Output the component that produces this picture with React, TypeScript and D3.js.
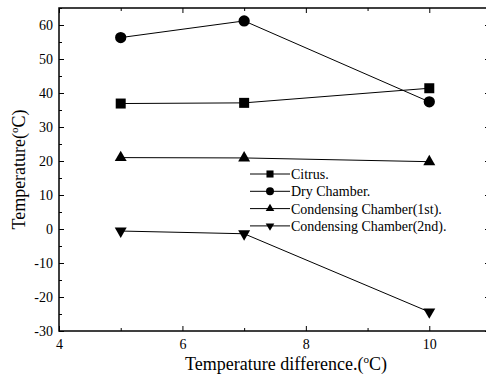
import React, { useRef, useEffect } from "react";
import * as d3 from "d3";

const xValues = [5, 7, 10];
const citrus = [36.9, 37.1, 41.4];
const dryChamber = [56.3, 61.2, 37.4];
const condensing1 = [21.0, 20.9, 19.8];
const condensing2 = [-0.6, -1.4, -24.4];
const seriesNames = [
  "Citrus.",
  "Dry Chamber.",
  "Condensing Chamber(1st).",
  "Condensing Chamber(2nd).",
];
const xTicks = [4, 6, 8, 10];
const yTicks = [-30, -20, -10, 0, 10, 20, 30, 40, 50, 60];

const FONT = "Liberation Serif, DejaVu Serif, serif";

const App = () => {
  const ref = useRef<SVGSVGElement>(null);

  useEffect(() => {
    const svg = d3.select(ref.current);
    svg.selectAll("*").remove();

    const width = 486;
    const height = 375;
    const margin = { top: 8, right: -5, bottom: 44, left: 59 };

    const x = d3
      .scaleLinear()
      .domain([4, 11])
      .range([margin.left, width - margin.right]);
    const y = d3
      .scaleLinear()
      .domain([-30, 65])
      .range([height - margin.bottom, margin.top]);

    const x0 = x.range()[0];
    const x1 = x.range()[1];
    const y0 = y.range()[0];
    const y1 = y.range()[1];

    svg.append("rect").attr("width", width).attr("height", height).attr("fill", "#fff");

    const styleAxis = (g) => {
      g.attr("font-family", FONT).attr("font-size", 14);
      g.selectAll(".domain").remove();
      g.selectAll("line").attr("stroke", "#000").attr("stroke-width", 1);
      g.selectAll("text").attr("fill", "#000");
    };
    const fmt = (d) => String(d);

    // bottom
    svg
      .append("g")
      .attr("transform", `translate(0,${y0})`)
      .call(d3.axisBottom(x).tickValues(xTicks).tickSizeInner(-5).tickSizeOuter(0).tickPadding(8).tickFormat(fmt))
      .call(styleAxis);
    svg
      .append("g")
      .attr("transform", `translate(0,${y0})`)
      .call(d3.axisBottom(x).tickValues([5, 7, 9]).tickSizeInner(-3).tickSizeOuter(0).tickFormat(() => ""))
      .call(styleAxis);
    // top
    svg
      .append("g")
      .attr("transform", `translate(0,${y1})`)
      .call(d3.axisTop(x).tickValues(xTicks).tickSizeInner(-5).tickSizeOuter(0).tickFormat(() => ""))
      .call(styleAxis);
    svg
      .append("g")
      .attr("transform", `translate(0,${y1})`)
      .call(d3.axisTop(x).tickValues([5, 7, 9]).tickSizeInner(-3).tickSizeOuter(0).tickFormat(() => ""))
      .call(styleAxis);
    // left
    svg
      .append("g")
      .attr("transform", `translate(${x0},0)`)
      .call(d3.axisLeft(y).tickValues(yTicks).tickSizeInner(-5).tickSizeOuter(0).tickPadding(6).tickFormat(fmt))
      .call(styleAxis);
    svg
      .append("g")
      .attr("transform", `translate(${x0},0)`)
      .call(d3.axisLeft(y).tickValues([-25, -15, -5, 5, 15, 25, 35, 45, 55, 65]).tickSizeInner(-3).tickSizeOuter(0).tickFormat(() => ""))
      .call(styleAxis);
    // right
    svg
      .append("g")
      .attr("transform", `translate(${x1},0)`)
      .call(d3.axisRight(y).tickValues(yTicks).tickSizeInner(-6).tickSizeOuter(0).tickFormat(() => ""))
      .call(styleAxis);

    // frame
    svg
      .append("rect")
      .attr("x", x0)
      .attr("y", y1)
      .attr("width", x1 - x0)
      .attr("height", y0 - y1)
      .attr("fill", "none")
      .attr("stroke", "#000")
      .attr("stroke-width", 1.5);

    const allSeries = [citrus, dryChamber, condensing1, condensing2];
    const symbols = [
      { type: d3.symbolSquare, size: 100, rot: 0, lsize: 50 },
      { type: d3.symbolCircle, size: 100, rot: 0, lsize: 50 },
      { type: d3.symbolTriangle, size: 62, rot: 0, lsize: 32 },
      { type: d3.symbolTriangle, size: 62, rot: 180, lsize: 32 },
    ];

    const line = d3
      .line<number>()
      .x((d, i) => x(xValues[i]))
      .y((d) => y(d));

    allSeries.forEach((values, si) => {
      svg
        .append("path")
        .datum(values)
        .attr("fill", "none")
        .attr("stroke", "#000")
        .attr("stroke-width", 1)
        .attr("d", line);
      const s = symbols[si];
      svg
        .append("g")
        .selectAll("path")
        .data(values)
        .enter()
        .append("path")
        .attr("d", d3.symbol().type(s.type).size(s.size)())
        .attr("transform", (d, i) => `translate(${x(xValues[i])},${y(d)}) rotate(${s.rot})`)
        .attr("fill", "#000");
    });

    // legend
    const legend = svg.append("g").attr("transform", "translate(250,174)");
    seriesNames.forEach((name, i) => {
      const row = legend.append("g").attr("transform", `translate(0,${i * 17.3})`);
      row.append("line").attr("x1", 0).attr("x2", 40).attr("stroke", "#000").attr("stroke-width", 1);
      const s = symbols[i];
      row
        .append("path")
        .attr("d", d3.symbol().type(s.type).size(s.lsize)())
        .attr("transform", `translate(20,0) rotate(${s.rot})`)
        .attr("fill", "#000");
      row
        .append("text")
        .attr("x", 41)
        .attr("dy", "0.35em")
        .attr("font-family", FONT)
        .attr("font-size", 14)
        .text(name);
    });

    // axis titles
    const xt = svg
      .append("text")
      .attr("x", 286)
      .attr("y", 370)
      .attr("text-anchor", "middle")
      .attr("font-family", FONT)
      .attr("font-size", 18);
    xt.append("tspan").text("Temperature difference.(");
    xt.append("tspan").attr("font-size", 11).attr("dy", -7).text("o");
    xt.append("tspan").attr("dy", 7).text("C)");

    const yt = svg
      .append("text")
      .attr("transform", `translate(25,${(y0 + y1) / 2}) rotate(-90)`)
      .attr("text-anchor", "middle")
      .attr("font-family", FONT)
      .attr("font-size", 18);
    yt.append("tspan").text("Temperature(");
    yt.append("tspan").attr("font-size", 11).attr("dy", -7).text("o");
    yt.append("tspan").attr("dy", 7).text("C)");
  }, []);

  return (
    <svg
      ref={ref}
      width={486}
      height={375}
      style={{ display: "block", position: "absolute", left: 0, top: 0 }}
    />
  );
};

export default App;
